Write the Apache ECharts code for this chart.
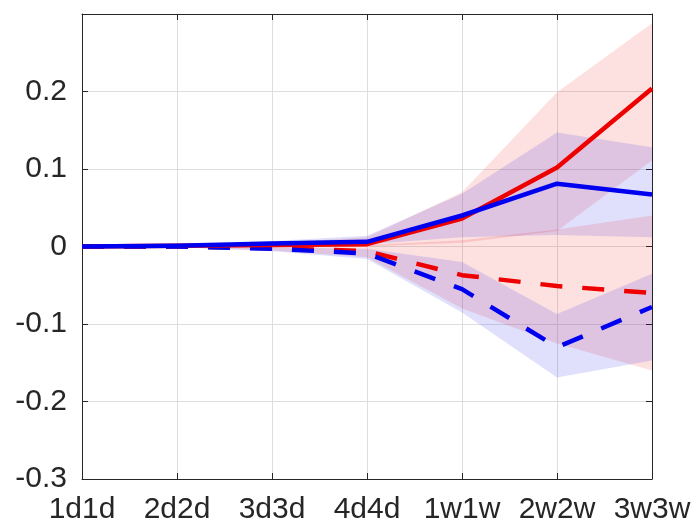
<!DOCTYPE html>
<html>
<head>
<meta charset="utf-8">
<script src="https://cdn.jsdelivr.net/npm/echarts@6/dist/echarts.min.js"></script>
<style>html,body{margin:0;padding:0;background:#fff}#c{width:700px;height:525px}</style>
</head>
<body>
<div id="c"></div>
<script>
var categories = ['1d1d','2d2d','3d3d','4d4d','1w1w','2w2w','3w3w'];
var yTicks = [-0.3, -0.2, -0.1, 0, 0.1, 0.2];

var redSolid   = [0, 0.001, 0.002, 0.003, 0.036, 0.102, 0.204];
var blueSolid  = [0, 0.001, 0.004, 0.006, 0.040, 0.081, 0.067];
var redDashed  = [0, 0, -0.002, -0.006, -0.037, -0.051, -0.060];
var blueDashed = [0, 0, -0.003, -0.009, -0.055, -0.130, -0.078];

var redSolidLo   = [0, 0, 0, 0, 0.005, 0.020, 0.111];
var redSolidHi   = [0, 0.002, 0.005, 0.012, 0.070, 0.199, 0.288];
var blueSolidLo  = [0, 0, 0.002, 0.003, 0.012, 0.015, 0.012];
var blueSolidHi  = [0, 0.002, 0.007, 0.014, 0.068, 0.147, 0.128];
var redDashedLo  = [0, -0.001, -0.005, -0.014, -0.080, -0.125, -0.160];
var redDashedHi  = [0, 0.001, 0.002, 0.002, 0.008, 0.022, 0.040];
var blueDashedLo = [0, -0.001, -0.006, -0.016, -0.085, -0.169, -0.147];
var blueDashedHi = [0, 0, -0.001, -0.003, -0.020, -0.087, -0.035];

var RED = '#ee0000', BLUE = '#0000f0';
var TXT = '#262626';

function band(name, lo, hi, color) {
  var diff = hi.map(function (v, i) { return v - lo[i]; });
  return [
    { type: 'line', name: name + 'lo', data: lo, stack: name, stackStrategy: 'all',
      symbol: 'none', lineStyle: { opacity: 0 }, silent: true, z: 1 },
    { type: 'line', name: name + 'hi', data: diff, stack: name, stackStrategy: 'all',
      symbol: 'none', lineStyle: { opacity: 0 }, areaStyle: { color: color, opacity: 0.12 },
      silent: true, z: 1 }
  ];
}
function line(data, color, dashed) {
  return { type: 'line', data: data, symbol: 'none', z: 5,
    lineStyle: { color: color, width: 4.5, type: dashed ? [22, 20] : 'solid', cap: 'butt', join: 'round' } };
}

var series = [].concat(
  band('rs', redSolidLo, redSolidHi, RED),
  band('bs', blueSolidLo, blueSolidHi, BLUE),
  band('rd', redDashedLo, redDashedHi, RED),
  band('bd', blueDashedLo, blueDashedHi, BLUE),
  [line(redDashed, RED, true), line(blueDashed, BLUE, true), line(redSolid, RED, false), line(blueSolid, BLUE, false)]
);

var axisLine = { show: true, onZero: false, lineStyle: { color: TXT, width: 1 } };
var tick = { show: true, inside: true, length: 6, lineStyle: { color: TXT } };
var font = { fontFamily: 'Liberation Sans', fontSize: 30, color: TXT };

var chart = echarts.init(document.getElementById('c'), null, { renderer: 'canvas' });
chart.setOption({
  animation: false,
  backgroundColor: '#fff',
  grid: { left: 82, right: 48, top: 14, bottom: 46, containLabel: false },
  xAxis: [
    { type: 'category', data: categories, boundaryGap: false, position: 'bottom',
      axisLine: axisLine, axisTick: Object.assign({ alignWithLabel: true }, tick),
      axisLabel: Object.assign({ margin: 16, interval: 0 }, font),
      splitLine: { show: true, lineStyle: { color: '#dedede', width: 1 } } },
    { type: 'category', data: categories, boundaryGap: false, position: 'top',
      axisLine: axisLine, axisTick: tick, axisLabel: { show: false }, splitLine: { show: false } }
  ],
  yAxis: [
    { type: 'value', min: -0.3, max: 0.3, interval: 0.1, position: 'left',
      axisLine: axisLine, axisTick: tick,
      axisLabel: Object.assign({ margin: 15, showMaxLabel: false, padding: [5, 0, 0, 0],
        formatter: function (v) {
          var r = Math.round(v * 10) / 10;
          for (var i = 0; i < yTicks.length; i++) { if (Math.abs(yTicks[i] - r) < 1e-9) return String(yTicks[i]); }
          return '';
        } }, font),
      splitLine: { show: true, lineStyle: { color: '#dedede', width: 1 } } },
    { type: 'value', min: -0.3, max: 0.3, interval: 0.1, position: 'right',
      axisLine: axisLine, axisTick: tick, axisLabel: { show: false }, splitLine: { show: false } }
  ],
  series: series
});
</script>
</body>
</html>
